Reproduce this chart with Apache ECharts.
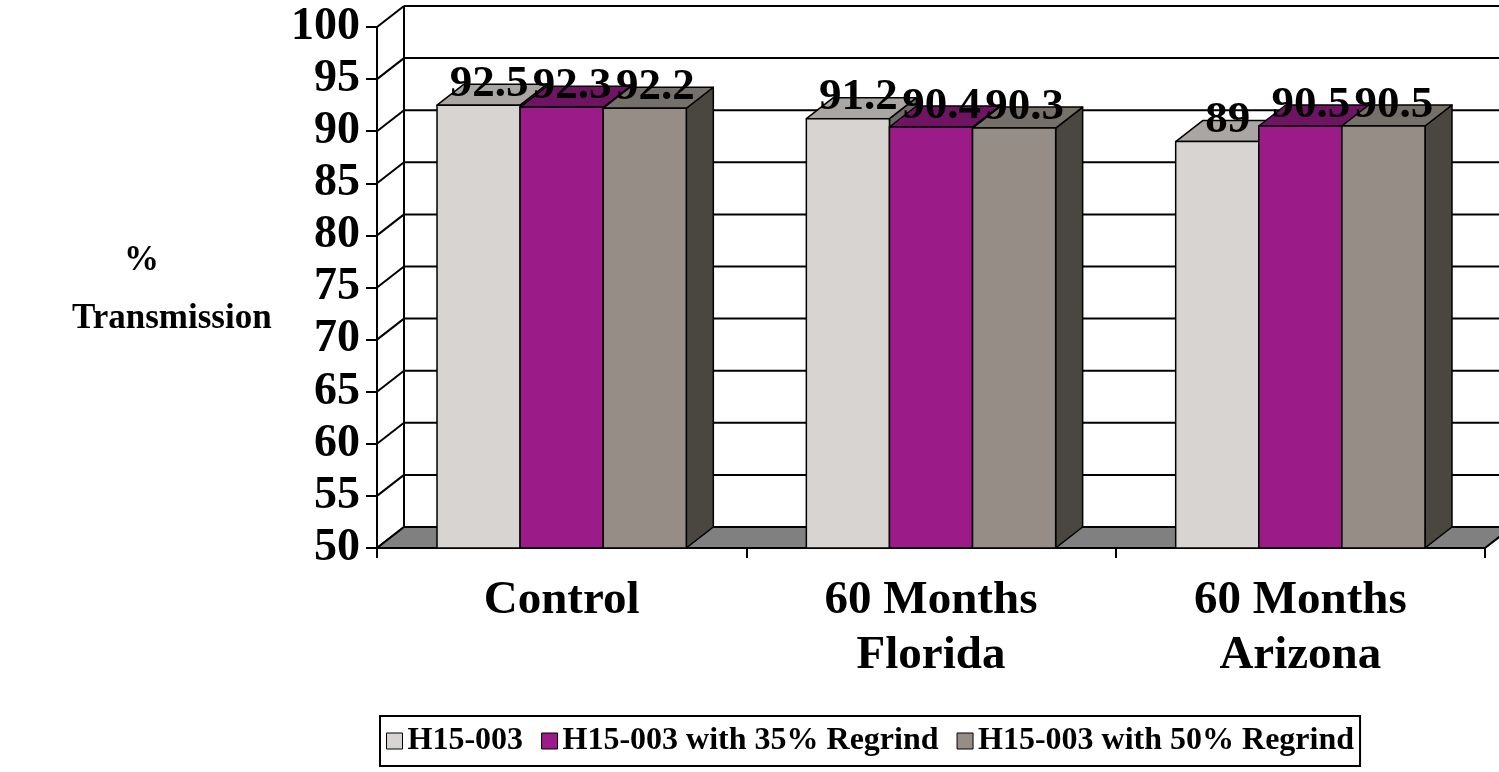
<!DOCTYPE html>
<html>
<head>
<meta charset="utf-8">
<title>% Transmission</title>
<script src="https://cdn.jsdelivr.net/npm/echarts@6/dist/echarts.min.js"></script>
<style>
  html, body { margin: 0; padding: 0; background: #ffffff; }
  #chart { width: 1499px; height: 772px; }
</style>
</head>
<body>
<div id="chart"></div>
<script>
// Categories and measured transmission values (%)
const categories = ['Control', '60 Months\nFlorida', '60 Months\nArizona'];
const seriesNames = ['H15-003', 'H15-003 with 35% Regrind', 'H15-003 with 50% Regrind'];
const h15003 = [92.5, 91.2, 89];
const regrind35 = [92.3, 90.4, 90.5];
const regrind50 = [92.2, 90.3, 90.5];
const yTicks = [50, 55, 60, 65, 70, 75, 80, 85, 90, 95, 100];

// Styling for the pseudo-3D column look
const FONT = '"Liberation Serif", "Times New Roman", serif';
const DEPTH_X = 27;
const DEPTH_Y = 21;
const BAR_RATIO = 0.225;
const faces = [
  { front: '#d8d4d1', top: '#a9a6a3', side: '#6d6a67' },
  { front: '#9b1b88', top: '#6f1462', side: '#4d0e44' },
  { front: '#968d87', top: '#76706a', side: '#4a4640' }
];
const seriesValues = [h15003, regrind35, regrind50];
const Y_MIN = yTicks[0];
const Y_MAX = yTicks[yTicks.length - 1];

const chart = echarts.init(document.getElementById('chart'), null, { renderer: 'canvas' });

// Back wall, side wall and floor drawn behind the columns
function renderWalls(params, api) {
  const bw = api.size([1, 0])[0];
  const first = api.coord([0, Y_MIN]);
  const last = api.coord([categories.length - 1, Y_MIN]);
  const xl = first[0] - bw / 2;
  const xr = last[0] + bw / 2;
  const yb = first[1];
  const yt = api.coord([0, Y_MAX])[1];
  const line = { stroke: '#000', lineWidth: 2 };
  const children = [];
  yTicks.forEach(function (v) {
    const y = api.coord([0, v])[1];
    children.push({ type: 'line', shape: { x1: xl + DEPTH_X, y1: y - DEPTH_Y, x2: xr + DEPTH_X, y2: y - DEPTH_Y }, style: line });
    children.push({ type: 'line', shape: { x1: xl, y1: y, x2: xl + DEPTH_X, y2: y - DEPTH_Y }, style: line });
  });
  children.push({ type: 'line', shape: { x1: xl + DEPTH_X, y1: yb - DEPTH_Y, x2: xl + DEPTH_X, y2: yt - DEPTH_Y }, style: line });
  children.push({
    type: 'polygon',
    shape: { points: [[xl, yb], [xr, yb], [xr + DEPTH_X, yb - DEPTH_Y], [xl + DEPTH_X, yb - DEPTH_Y]] },
    style: { fill: '#808080', stroke: '#000', lineWidth: 2 }
  });
  return { type: 'group', children: children };
}

// One column: front face, top face and right side face
function makeBarRenderer(k) {
  return function (params, api) {
    const ci = api.value(0);
    const v = api.value(1);
    const bw = api.size([1, 0])[0];
    const w = bw * BAR_RATIO;
    const top = api.coord([ci, v]);
    const base = api.coord([ci, Y_MIN]);
    const cx = top[0] + (k - 1) * w;
    const xl = cx - w / 2, xr = cx + w / 2;
    const yt = top[1], yb = base[1];
    const edge = { stroke: '#000', lineWidth: 1.5, lineJoin: 'round' };
    return {
      type: 'group',
      children: [
        { type: 'polygon', shape: { points: [[xr, yt], [xr + DEPTH_X, yt - DEPTH_Y], [xr + DEPTH_X, yb - DEPTH_Y], [xr, yb]] },
          style: Object.assign({ fill: faces[k].side }, edge) },
        { type: 'polygon', shape: { points: [[xl, yt], [xr, yt], [xr + DEPTH_X, yt - DEPTH_Y], [xl + DEPTH_X, yt - DEPTH_Y]] },
          style: Object.assign({ fill: faces[k].top }, edge) },
        { type: 'rect', shape: { x: xl, y: yt, width: w, height: yb - yt },
          style: Object.assign({ fill: faces[k].front }, edge) }
      ]
    };
  };
}

// Value labels sit above each column, on top of everything else
function renderLabel(params, api) {
  const ci = api.value(0);
  const v = api.value(1);
  const k = api.value(2);
  const bw = api.size([1, 0])[0];
  const w = bw * BAR_RATIO;
  const top = api.coord([ci, v]);
  const cx = top[0] + (k - 1) * w + DEPTH_X / 2 - 3;
  return {
    type: 'text',
    x: cx,
    y: top[1] - 21,
    style: {
      text: String(v),
      fill: '#000',
      font: 'bold 45px ' + FONT,
      align: 'center',
      verticalAlign: 'middle'
    }
  };
}

const labelData = [];
seriesValues.forEach(function (vals, k) {
  vals.forEach(function (v, i) { labelData.push([i, v, k]); });
});

const series = [{
  type: 'custom',
  name: 'walls',
  renderItem: renderWalls,
  data: [[0, Y_MIN]],
  silent: true,
  clip: false,
  z: 1
}];
seriesValues.forEach(function (vals, k) {
  series.push({
    type: 'custom',
    name: seriesNames[k],
    renderItem: makeBarRenderer(k),
    data: vals.map(function (v, i) { return [i, v]; }),
    itemStyle: { color: faces[k].front },
    clip: false,
    z: 2
  });
});
series.push({
  type: 'custom',
  name: 'values',
  renderItem: renderLabel,
  data: labelData,
  silent: true,
  clip: false,
  z: 5
});

chart.setOption({
  animation: false,
  backgroundColor: '#ffffff',
  grid: { left: 377, right: 14, top: 27, bottom: 224, containLabel: false },
  xAxis: {
    type: 'category',
    data: categories,
    boundaryGap: true,
    axisLine: { show: true, lineStyle: { color: '#000', width: 2 } },
    axisTick: { show: true, length: 10, inside: false, lineStyle: { color: '#000', width: 2 } },
    axisLabel: {
      color: '#000', fontFamily: FONT, fontWeight: 'bold', fontSize: 47,
      lineHeight: 55, margin: 25, interval: 0
    },
    splitLine: { show: false }
  },
  yAxis: {
    type: 'value',
    min: Y_MIN,
    max: Y_MAX,
    interval: 5,
    axisLine: { show: true, lineStyle: { color: '#000', width: 2 } },
    axisTick: { show: true, length: 11, inside: false, lineStyle: { color: '#000', width: 2 } },
    axisLabel: { color: '#000', fontFamily: FONT, fontWeight: 'bold', fontSize: 46, margin: 17 },
    splitLine: { show: false }
  },
  legend: {
    data: seriesNames,
    left: 380,
    top: 716,
    orient: 'horizontal',
    icon: 'rect',
    itemWidth: 16,
    itemHeight: 16,
    itemGap: 18,
    padding: [9, 6],
    borderColor: '#000',
    borderWidth: 2,
    backgroundColor: '#fff',
    itemStyle: { borderColor: '#000', borderWidth: 1 },
    textStyle: { color: '#000', fontFamily: FONT, fontWeight: 'bold', fontSize: 32, padding: [0, 0, 0, 0] }
  },
  graphic: [
    { type: 'text', left: 124, top: 243,
      style: { text: '%', fill: '#000', font: 'bold 35px ' + FONT } },
    { type: 'text', left: 72, top: 301,
      style: { text: 'Transmission', fill: '#000', font: 'bold 35px ' + FONT } }
  ],
  series: series
});
</script>
</body>
</html>
